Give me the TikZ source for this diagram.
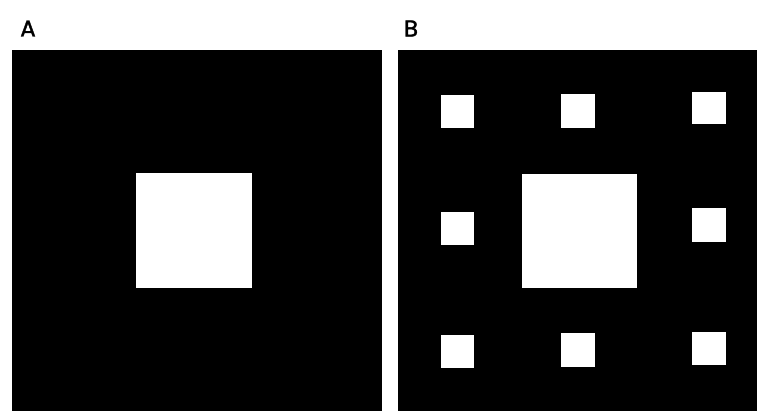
\documentclass[tikz,border=0pt]{standalone}
\usepackage{fontspec}
\setmainfont{Poppins}[FakeBold=1.6]
\begin{document}
\begin{tikzpicture}[x=1pt,y=-1pt,
  panel/.style={fill=black},
  hole/.style={fill=white},
  lab/.style={font=\fontsize{23}{26}\selectfont, inner sep=0pt}]
\useasboundingbox[fill=white] (0,0) rectangle (757,413);
% Panel A
\fill[panel] (12,50) rectangle (382,411);
\fill[hole] (136,173) rectangle (252,288);
% Panel B
\fill[panel] (398,50) rectangle (757,411);
\fill[hole] (522,174) rectangle (637,288);
% small holes row 1
\fill[hole] (441,95) rectangle (474,128);
\fill[hole] (561,94) rectangle (595,128);
\fill[hole] (692,92) rectangle (726,124);
% row 2
\fill[hole] (441,212) rectangle (474,245);
\fill[hole] (692,208) rectangle (726,242);
% row 3
\fill[hole] (441,335) rectangle (474,368);
\fill[hole] (561,333) rectangle (595,367);
\fill[hole] (692,332) rectangle (726,365);
% labels
\node[lab] (labA) at (28,28.5) {A};
\node[lab] (labB) at (411,28.5) {B};
\end{tikzpicture}
\end{document}
